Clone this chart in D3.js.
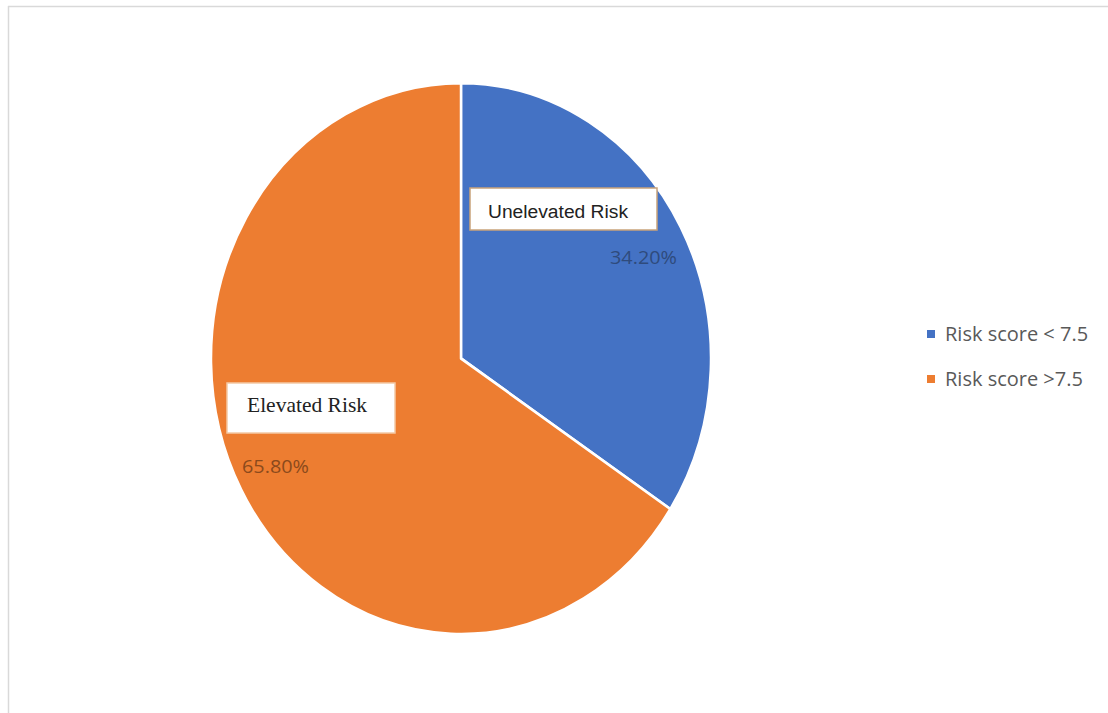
<!DOCTYPE html>
<html>
<head>
<meta charset="utf-8">
<script src="https://cdn.jsdelivr.net/npm/d3@7"></script>
<style>
  body { margin: 0; background: #fff; }
  svg { display: block; }
</style>
</head>
<body>
<div id="chart"></div>
<script>
// datos del grafico
const categorias = ["Risk score < 7.5", "Risk score >7.5"];
const valores = [34.2, 65.8];
const etiquetas = ["Unelevated Risk", "Elevated Risk"];
const colores = ["#4472C4", "#ED7D31"];
const coloresTexto = ["#2F4B7C", "#8B4A1C"];

const WIDTH = 1108;
const HEIGHT = 713;

const CENTRO = { x: 461, y: 358.5 };
const RADIO = 250;
const ESTIRAR_Y = 275.5 / 250; // la imagen original esta un poco estirada en vertical

const SVG = d3.select("#chart")
  .append("svg")
  .attr("width", WIDTH)
  .attr("height", HEIGHT);

// marco (solo se ve arriba y a la izquierda)
SVG.append("line")
  .attr("x1", 8).attr("y1", 6.5).attr("x2", WIDTH).attr("y2", 6.5)
  .attr("stroke", "#d9d9d9").attr("stroke-width", 1.5);
SVG.append("line")
  .attr("x1", 8.5).attr("y1", 6).attr("x2", 8.5).attr("y2", HEIGHT)
  .attr("stroke", "#d9d9d9").attr("stroke-width", 1.5);

const datos = categorias.map((c, i) => ({
  categoria: c, valor: valores[i], etiqueta: etiquetas[i],
  color: colores[i], colorTexto: coloresTexto[i]
}));

const pie = d3.pie().sort(null).value(d => d.valor);
const arc = d3.arc().innerRadius(0).outerRadius(RADIO);

const contenedor = SVG.append("g")
  .attr("transform", `translate(${CENTRO.x}, ${CENTRO.y}) scale(1, ${ESTIRAR_Y})`);

contenedor.selectAll("path")
  .data(pie(datos))
  .join("path")
  .attr("d", arc)
  .attr("fill", d => d.data.color)
  .attr("stroke", "#fff")
  .attr("stroke-width", 2.5)
  .attr("stroke-linejoin", "round");

// cajas de etiquetas (posicion de los callouts de Excel)
const CAJAS = [
  { x: 470, y: 188, w: 187, h: 42, tx: 558, ty: 212, tl: 140, fs: 18,
    font: "Liberation Sans, Arial, sans-serif", px: 610, py: 264 },
  { x: 227, y: 383, w: 168, h: 50, tx: 307, ty: 405, tl: 120, fs: 21,
    font: "Liberation Serif, DejaVu Serif, serif", px: 242, py: 473 }
];

const etiq = SVG.selectAll("g.etiqueta")
  .data(datos)
  .join("g")
  .attr("class", "etiqueta");

etiq.append("rect")
  .attr("x", (d, i) => CAJAS[i].x)
  .attr("y", (d, i) => CAJAS[i].y)
  .attr("width", (d, i) => CAJAS[i].w)
  .attr("height", (d, i) => CAJAS[i].h)
  .attr("fill", "#fff")
  .attr("stroke", (d, i) => i == 0 ? "#c9a37a" : "#f3c9a5")
  .attr("stroke-width", 1.5);

etiq.append("text")
  .attr("x", (d, i) => CAJAS[i].tx)
  .attr("y", (d, i) => CAJAS[i].ty)
  .attr("dy", "0.35em")
  .attr("text-anchor", "middle")
  .attr("font-family", (d, i) => CAJAS[i].font)
  .attr("font-size", (d, i) => CAJAS[i].fs)
  .attr("textLength", (d, i) => CAJAS[i].tl)
  .attr("lengthAdjust", "spacingAndGlyphs")
  .attr("fill", "#222")
  .text(d => d.etiqueta);

etiq.append("text")
  .attr("x", (d, i) => CAJAS[i].px)
  .attr("y", (d, i) => CAJAS[i].py)
  .attr("font-family", "Open Sans, Noto Sans, sans-serif")
  .attr("font-size", 19)
  .attr("textLength", 67)
  .attr("lengthAdjust", "spacingAndGlyphs")
  .attr("fill", d => d.colorTexto)
  .text(d => d.valor.toFixed(2) + "%");

// leyenda
const leyenda = SVG.append("g")
  .attr("transform", "translate(927, 334)");

const items = leyenda.selectAll("g")
  .data(datos)
  .join("g")
  .attr("transform", (d, i) => `translate(0, ${i * 45})`);

items.append("rect")
  .attr("x", 0).attr("y", -4)
  .attr("width", 8).attr("height", 8)
  .attr("fill", d => d.color);

items.append("text")
  .attr("x", 18)
  .attr("y", 0)
  .attr("dy", "0.35em")
  .attr("font-family", "Open Sans, Noto Sans, sans-serif")
  .attr("font-size", 20)
  .attr("fill", "#595959")
  .text(d => d.categoria);
</script>
</body>
</html>
